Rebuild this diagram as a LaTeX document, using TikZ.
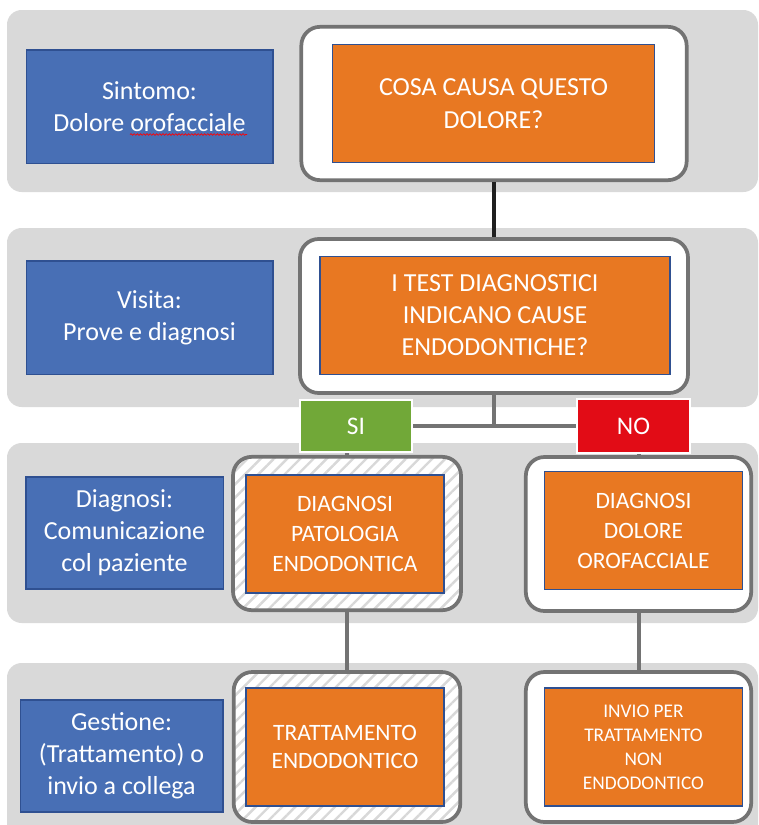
\documentclass[tikz,border=0pt]{standalone}
\usepackage{fontspec}
\setmainfont{Carlito}
\usepackage{tikz}
\usetikzlibrary{patterns.meta, decorations.pathmorphing}

\definecolor{bandgray}{RGB}{217,217,217}
\definecolor{phaseblue}{RGB}{72,111,181}
\definecolor{phaseedge}{RGB}{47,80,145}
\definecolor{taskorange}{RGB}{232,120,34}
\definecolor{frameedge}{RGB}{115,115,115}
\definecolor{yesgreen}{RGB}{113,168,56}
\definecolor{nored}{RGB}{226,12,22}
\definecolor{stripe}{RGB}{216,216,216}

\begin{document}
\begin{tikzpicture}[x=0.75pt, y=-0.75pt,
    band/.style    = {fill=bandgray, rounded corners=11pt},
    phase/.style   = {draw=phaseedge, line width=1pt, fill=phaseblue,
      text=white, align=center, inner sep=0pt,
      font=\fontsize{19.5}{24}\selectfont},
    frame/.style   = {draw=frameedge, line width=2.8pt, fill=white,
      rounded corners=14pt, inner sep=0pt},
    hatched/.style = {draw=frameedge, line width=2.8pt, rounded corners=14pt,
      inner sep=0pt, preaction={fill=white},
      pattern={Lines[angle=45,distance=7pt,line width=1.8pt]},
      pattern color=stripe},
    task/.style    = {draw=phaseedge, line width=0.9pt, fill=taskorange,
      text=white, align=center, inner sep=0pt},
    answer/.style  = {draw=white, line width=1.5pt, text=white, inner sep=0pt,
      font=\fontsize{19}{22}\selectfont},
    link/.style    = {draw=frameedge, line width=3pt},
    squiggle/.style = {red, line width=0.5pt, decorate,
      decoration={snake, amplitude=0.6pt, segment length=2.4pt}}
  ]
  \useasboundingbox (0,0) rectangle (758,825);
  \fill[white] (0,0) rectangle (758,825);
  \clip (0,0) rectangle (758,825);

  \fill[band] (7,10) rectangle (758,192);
  \fill[band] (7,228) rectangle (758,407);
  \fill[band] (7,443) rectangle (758,623);
  \fill[band] (7,663) rectangle (758,860);

  \node[phase, minimum width=185pt, minimum height=85pt] (sintomo) at (149.5,106.5)
    {Sintomo:\\Dolore orofacciale};
  \node[phase, minimum width=185pt, minimum height=85pt] (visita) at (149.5,317.5)
    {Visita:\\Prove e diagnosi};
  \node[phase, minimum width=148pt, minimum height=84pt] (diagnosi) at (124.5,533)
    {Diagnosi:\\Comunicazione\\col paziente};
  \node[phase, minimum width=152pt, minimum height=84pt] (gestione) at (121.5,756)
    {Gestione:\\(Trattamento) o\\invio a collega};
  \draw[squiggle] (130,134.5) -- (247,134.5);

  \node[frame, minimum width=289pt, minimum height=115pt] (frame1) at (494,103.5) {};
  \node[frame, minimum width=291pt, minimum height=115.5pt] (frame2) at (494,316) {};
  \node[hatched, minimum width=171pt, minimum height=115pt] (frame3l) at (347,533.5) {};
  \node[frame, minimum width=169pt, minimum height=115.5pt] (frame3r) at (638.5,534) {};
  \node[hatched, minimum width=170pt, minimum height=112.5pt] (frame4l) at (347,747) {};
  \node[frame, minimum width=169pt, minimum height=112.5pt] (frame4r) at (638.5,747) {};

  \node[task, minimum width=242pt, minimum height=89pt,
    font=\fontsize{19.5}{24.5}\selectfont] (causa) at (493.5,103.5)
    {COSA CAUSA QUESTO\\DOLORE?};
  \node[task, minimum width=262.5pt, minimum height=88pt,
    font=\fontsize{19.5}{24}\selectfont] (test) at (495,315.5)
    {I TEST DIAGNOSTICI\\INDICANO CAUSE\\ENDODONTICHE?};
  \node[task, minimum width=148.5pt, minimum height=88.5pt,
    font=\fontsize{17.6}{22.5}\selectfont] (patologia) at (345,534)
    {DIAGNOSI\\PATOLOGIA\\ENDODONTICA};
  \node[task, minimum width=149pt, minimum height=89pt,
    font=\fontsize{17.6}{22.5}\selectfont] (orofacciale) at (643.5,530.5)
    {DIAGNOSI\\DOLORE\\OROFACCIALE};
  \node[task, minimum width=148.5pt, minimum height=88.5pt,
    font=\fontsize{17.6}{21.5}\selectfont] (endo) at (345,747)
    {TRATTAMENTO\\ENDODONTICO};
  \node[task, minimum width=149pt, minimum height=88.5pt,
    font=\fontsize{14.5}{18}\selectfont] (invio) at (643.5,747)
    {INVIO PER\\TRATTAMENTO\\NON\\ENDODONTICO};

  \node[answer, fill=yesgreen, minimum width=84pt, minimum height=39pt] (si) at (356,426) {SI};
  \node[answer, fill=nored, minimum width=85pt, minimum height=41pt] (no) at (633.5,426) {NO};

  \coordinate (split) at (frame2.south |- si.east);
  \draw[link, draw=black!88] (frame1.south) -- (frame2.north);
  \draw[link] (frame2.south) -- (split);
  \draw[link] (si.east) -- (no.west);
  \draw[link] (si.south -| frame3l.north) -- (frame3l.north);
  \draw[link] (no.south -| frame3r.north) -- (frame3r.north);
  \draw[link] (frame3l.south) -- (frame4l.north);
  \draw[link] (frame3r.south) -- (frame4r.north);
\end{tikzpicture}
\end{document}
